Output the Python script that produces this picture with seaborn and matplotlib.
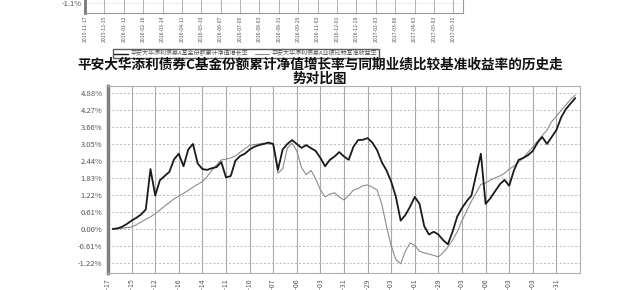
import matplotlib
matplotlib.use("Agg")
import matplotlib.pyplot as plt
from matplotlib.lines import Line2D
import seaborn as sns
import pandas as pd

# ---------------- data ----------------
days = list(range(1, 100))
fund_ret = [0.00, 0.02, 0.08, 0.18, 0.30, 0.40, 0.52, 0.70, 2.15, 1.20,
            1.75, 1.90, 2.05, 2.50, 2.70, 2.25, 2.85, 3.05, 2.35, 2.15,
            2.12, 2.18, 2.22, 2.40, 1.85, 1.90, 2.45, 2.62, 2.70, 2.85,
            2.95, 3.01, 3.05, 3.10, 3.05, 2.12, 2.85, 3.05, 3.19, 3.05,
            2.91, 3.01, 2.90, 2.80, 2.55, 2.25, 2.48, 2.60, 2.76, 2.60,
            2.48, 2.95, 3.19, 3.20, 3.26, 3.10, 2.83, 2.40, 2.10, 1.70,
            1.15, 0.30, 0.50, 0.80, 1.15, 0.90, 0.10, -0.20, -0.10, -0.20,
            -0.40, -0.55, -0.10, 0.45, 0.75, 1.00, 1.20, 1.95, 2.70, 0.90,
            1.10, 1.35, 1.60, 1.76, 1.55, 2.10, 2.48, 2.55, 2.65, 2.80,
            3.10, 3.30, 3.05, 3.30, 3.55, 4.00, 4.30, 4.50, 4.70]
bench_ret = [0.00, 0.00, 0.02, 0.05, 0.07, 0.15, 0.25, 0.35, 0.43, 0.55,
             0.68, 0.82, 0.95, 1.08, 1.18, 1.28, 1.38, 1.50, 1.60, 1.70,
             1.88, 2.10, 2.30, 2.48, 2.50, 2.55, 2.62, 2.75, 2.88, 3.00,
             3.03, 3.05, 3.08, 3.05, 3.05, 2.00, 2.15, 2.90, 3.08, 2.80,
             2.20, 1.95, 2.10, 1.80, 1.40, 1.15, 1.25, 1.30, 1.15, 1.04,
             1.20, 1.40, 1.45, 1.55, 1.58, 1.50, 1.40, 0.90, 0.10, -0.60,
             -1.10, -1.25, -0.80, -0.50, -0.60, -0.80, -0.86, -0.90, -0.95, -1.00,
             -0.85, -0.65, -0.40, -0.10, 0.30, 0.65, 1.00, 1.29, 1.60, 1.65,
             1.75, 1.83, 1.90, 2.00, 2.15, 2.25, 2.40, 2.55, 2.75, 2.94,
             3.15, 3.35, 3.55, 3.85, 4.05, 4.25, 4.45, 4.65, 4.81]
tick_pos = list(range(0, 100, 5))
tick_dates = ["2015-11-17", "2015-12-15", "2016-01-12", "2016-02-16", "2016-03-14",
              "2016-04-11", "2016-05-10", "2016-06-07", "2016-07-06", "2016-08-03",
              "2016-08-31", "2016-09-29", "2016-11-03", "2016-12-01", "2016-12-29",
              "2017-02-03", "2017-03-06", "2017-04-03", "2017-05-03", "2017-05-31"]
ytick_vals = [-1.22, -0.61, 0.00, 0.61, 1.22, 1.83, 2.44, 3.05, 3.66, 4.27, 4.88]
title_text = ("平安大华添利债券C基金份额累计净值增长率与同期业绩比较基准收益率的历史走\n"
              "势对比图")
series_names = ["平安大华添利债券C基金份额累计净值增长率", "平安大华添利债券C业绩比较基准收益率"]
top_legend = ["平安大华添利债券A基金份额累计净值增长率", "平安大华添利债券A业绩比较基准收益率"]
top_ytick_vals = [-1.1]

# ---------------- style ----------------
sns.set_style("white")
plt.rcParams['font.family'] = ['Noto Sans CJK SC', 'DejaVu Sans']
plt.rcParams['axes.unicode_minus'] = False

W, H = 640, 290
fig = plt.figure(figsize=(6.4, 2.9), dpi=100)

# ---------- fragment of previous chart (top, cut off) ----------
ax2 = fig.add_axes([85 / W, 1 - 13 / H, 378 / W, 100 / H])
ax2.set_xlim(0, 19.5)
ax2.set_ylim(-1.5, 2.5)
ax2.set_xticks(list(range(20)))
ax2.set_xticklabels(tick_dates, rotation=90, fontsize=3.7, color="#555555")
ax2.set_yticks(top_ytick_vals)
ax2.set_yticklabels([f"{v:.1f}%" for v in top_ytick_vals], fontsize=5.5, color="#555555")
ax2.tick_params(length=0, pad=2)
ax2.grid(axis="x", color="#b0b0b0", lw=0.7)
ax2.grid(axis="y", color="#c8c8c8", lw=0.6, ls=":")
for s in ax2.spines.values():
    s.set_color("#999999"); s.set_linewidth(0.8)
ax2.spines["left"].set_linewidth(2.0)
ax2.spines["left"].set_color("#777777")
handles = [Line2D([], [], color="#1a1a1a", lw=1.0), Line2D([], [], color="#8c8c8c", lw=0.8)]
leg = ax2.legend(handles, top_legend, loc="upper left", bbox_to_anchor=(110 / W, 1 - 46 / H),
                 bbox_transform=fig.transFigure, ncol=2, fontsize=4.3, frameon=True,
                 fancybox=False, edgecolor="#333333", handlelength=2.2, borderpad=0.25,
                 columnspacing=1.2, handletextpad=0.5, labelcolor="#555555")
leg.get_frame().set_linewidth(1.0)

# ---------------- main chart ----------------
ax = fig.add_axes([108 / W, 1 - 273 / H, 472 / W, 187 / H])
df = pd.DataFrame({"day": days * 2,
                   "ret": fund_ret + bench_ret,
                   "series": [series_names[0]] * len(days) + [series_names[1]] * len(days)})
sns.lineplot(data=df[df.series == series_names[1]], x="day", y="ret", color="#8c8c8c",
             lw=0.8, ax=ax, legend=False)
sns.lineplot(data=df[df.series == series_names[0]], x="day", y="ret", color="#1a1a1a",
             lw=1.3, ax=ax, legend=False)
ax.set_xlim(0, 100)
ax.set_ylim(-1.58, 5.13)
ax.set_xticks(tick_pos)
ax.set_xticklabels(tick_dates, rotation=90, fontsize=5, color="#555555")
ax.set_yticks(ytick_vals)
ax.set_yticklabels([f"{v:.2f}%" for v in ytick_vals], fontsize=5.5, color="#555555")
ax.tick_params(length=0, pad=4)
ax.set_xlabel("")
ax.set_ylabel("")
ax.grid(axis="x", color="#a8a8a8", lw=0.8)
ax.grid(axis="y", color="#b8b8b8", lw=0.7, ls=(0, (2, 2)))
for s in ax.spines.values():
    s.set_color("#b0b0b0"); s.set_linewidth(0.8)
ax.spines["left"].set_linewidth(2.5)
ax.spines["left"].set_color("#808080")

fig.text(0.5, 1 - 58 / H, title_text, ha="center", va="top", fontsize=9.8,
         fontweight="bold", color="#111111", linespacing=0.98)

fig.savefig("out.png", dpi=100, facecolor="white")
